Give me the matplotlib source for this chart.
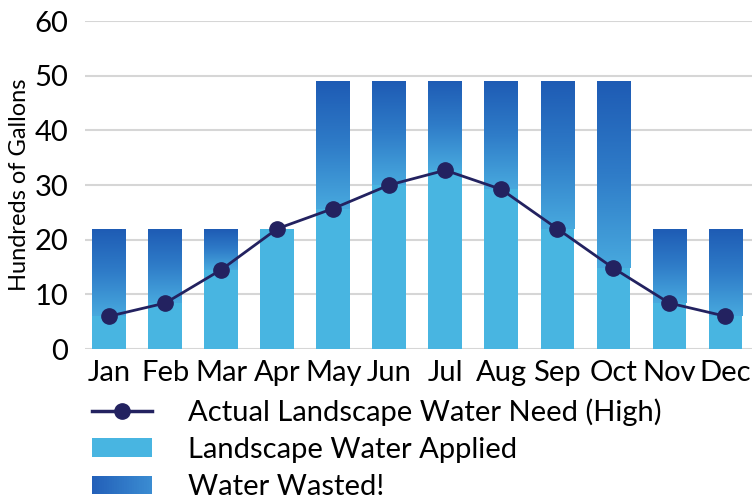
import numpy as np
import matplotlib
matplotlib.use('Agg')
import matplotlib.pyplot as plt
from matplotlib.colors import LinearSegmentedColormap
from matplotlib.lines import Line2D
from matplotlib.patches import Patch, Rectangle
from matplotlib.legend_handler import HandlerBase

#----------------------------   Data   ----------------------------------------

months = ['Jan', 'Feb', 'Mar', 'Apr', 'May', 'Jun',
          'Jul', 'Aug', 'Sep', 'Oct', 'Nov', 'Dec']

#Total water put on the landscape (hundreds of gallons)
applied_total = [22, 22, 22, 22, 49, 49, 49, 49, 49, 49, 22, 22]

#Actual landscape water need (high)
need = [6, 8.4, 14.5, 22, 25.7, 30, 32.7, 29.2, 22, 14.8, 8.4, 6]

yticks = [0, 10, 20, 30, 40, 50, 60]

#----------------------------   Styling   -------------------------------------

plt.rcParams['font.family'] = ['Lato', 'DejaVu Sans']

applied_col = '#48b5e1'
need_col = '#232260'
grid_col = '#d6d6d6'
wasted_cmap = LinearSegmentedColormap.from_list(
    'wasted', ['#48a9de', '#2f7cc8', '#1e5bb4'])
legend_cmap = LinearSegmentedColormap.from_list(
    'wasted_leg', ['#2360b9', '#3a8bd1'])

bwidth = 0.6
fsize = 21


class GradientHandler(HandlerBase):
    """Legend key filled with a horizontal colour ramp."""
    def create_artists(self, legend, orig_handle, xdescent, ydescent,
                       width, height, fontsize, trans):
        n = 24
        arts = []
        for k in range(n):
            r = Rectangle((xdescent + width * k / n, -ydescent), width / n + 0.3,
                          height, facecolor=legend_cmap(k / (n - 1)),
                          edgecolor='none', transform=trans)
            arts.append(r)
        return arts


#----------------------------   Plot   ----------------------------------------

fig = plt.figure(figsize=(7.53, 5.0), dpi=100)
ax = fig.add_axes([0.113, 0.302, 0.886, 0.656])

x = np.arange(len(months))

#Applied water that the landscape actually used
ax.bar(x, need, width=bwidth, color=applied_col, zorder=2)

#Wasted water on top, shaded light-to-dark
wasted = np.array(applied_total) - np.array(need)
bars = ax.bar(x, wasted, bottom=need, width=bwidth, color='none', zorder=2)
grad = np.linspace(0, 1, 256).reshape(-1, 1)
for xi, b, n_, t in zip(x, bars, need, applied_total):
    if t - n_ <= 0:
        continue
    im = ax.imshow(grad, cmap=wasted_cmap, origin='lower', aspect='auto',
                   extent=(xi - bwidth / 2, xi + bwidth / 2, n_, t), zorder=2)
    im.set_clip_path(b)

#Need line
ax.plot(x, need, color=need_col, lw=2.0, marker='o', ms=11, zorder=3)

ax.set_xlim(-0.43, 11.48)
ax.set_ylim(0, 60)
ax.set_yticks(yticks)
ax.set_yticklabels([str(v) for v in yticks], fontsize=fsize)
ax.set_xticks(x)
ax.set_xticklabels(months, fontsize=fsize)
ax.tick_params(length=0)
ax.tick_params(axis='y', pad=12)
ax.tick_params(axis='x', pad=8)
for s in ax.spines.values():
    s.set_visible(False)
ax.set_axisbelow(True)
ax.yaxis.grid(True, color=grid_col, lw=1.5, zorder=0)
ax.set_ylabel('Hundreds of Gallons', fontsize=17, labelpad=3)

#Legend
handles = [Line2D([], [], color=need_col, lw=2.5, marker='o', ms=11),
           Patch(facecolor=applied_col),
           Patch(facecolor='#2a6fc3')]
labels = ['Actual Landscape Water Need (High)',
          'Landscape Water Applied',
          'Water Wasted!']
fig.legend(handles, labels, loc='upper left', bbox_to_anchor=(0.122, 0.203),
           frameon=False, fontsize=fsize, handlelength=2.05, handleheight=0.62,
           handletextpad=1.25, labelspacing=0.38, borderpad=0, borderaxespad=0,
           handler_map={handles[2]: GradientHandler()})

plt.savefig('out.png', dpi=100)
